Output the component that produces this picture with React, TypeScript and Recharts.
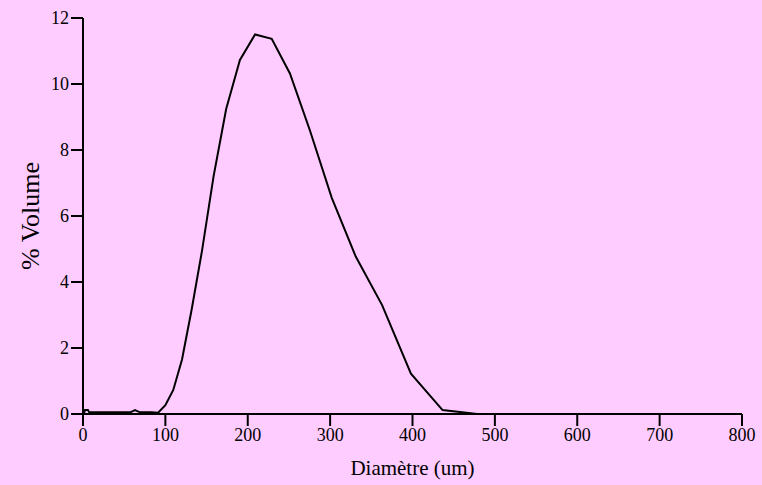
import React from "react";
import { LineChart, Line, XAxis, YAxis, Label } from "recharts";

const diameters = [
  1, 2.5, 6, 7.5, 10, 14.5, 20.9, 30.2, 43.7, 52.5, 57.5, 63.1, 69.2, 75.9, 83.2,
  91.2, 100, 109.6, 120.2, 131.8, 144.5, 158.5, 173.8, 190.5, 208.9, 229.1,
  251.2, 275.4, 302, 331.1, 363.1, 398.1, 436.5, 478.6,
];
const volumes = [
  0, 0.12, 0.12, 0.05, 0.05, 0.05, 0.05, 0.05, 0.05, 0.05, 0.05, 0.12, 0.05, 0.05, 0.05,
  0.04, 0.27, 0.73, 1.65, 3.15, 4.95, 7.2, 9.24, 10.73, 11.5, 11.37,
  10.32, 8.6, 6.55, 4.77, 3.3, 1.22, 0.12, 0.0,
];
const xTicks = [0, 100, 200, 300, 400, 500, 600, 700, 800];
const yTicks = [0, 2, 4, 6, 8, 10, 12];

const data = diameters.map((d, i) => ({ d, v: volumes[i] }));

const FONT = "'Liberation Serif', 'Times New Roman', serif";

export default function App() {
  return (
    <div style={{ width: 762, height: 485, background: "#FFCCFF" }}>
      <style>{`body{margin:0}`}</style>
      <LineChart
        width={762}
        height={485}
        data={data}
        margin={{ top: 18, right: 20, bottom: 0, left: 0 }}
      >
        <XAxis
          dataKey="d"
          type="number"
          domain={[0, 800]}
          ticks={xTicks}
          interval={0}
          height={71}
          tickSize={12}
          tickMargin={2}
          stroke="#000"
          strokeWidth={2}
          tick={{ fill: "#000", fontSize: 18, fontFamily: FONT }}
        >
          <Label
            value="Diamètre (um)"
            position="insideBottom"
            offset={10}
            style={{ fill: "#000", fontSize: 21, fontFamily: FONT }}
          />
        </XAxis>
        <YAxis
          type="number"
          domain={[0, 12]}
          ticks={yTicks}
          interval={0}
          width={83}
          tickSize={12}
          tickMargin={2}
          stroke="#000"
          strokeWidth={2}
          tick={{ fill: "#000", fontSize: 18, fontFamily: FONT }}
        >
          <Label
            value="% Volume"
            angle={-90}
            position="insideLeft"
            offset={30}
            style={{ fill: "#000", fontSize: 26, fontFamily: FONT, textAnchor: "middle" }}
          />
        </YAxis>
        <Line
          type="linear"
          dataKey="v"
          stroke="#000"
          strokeWidth={2}
          dot={false}
          isAnimationActive={false}
        />
      </LineChart>
    </div>
  );
}
